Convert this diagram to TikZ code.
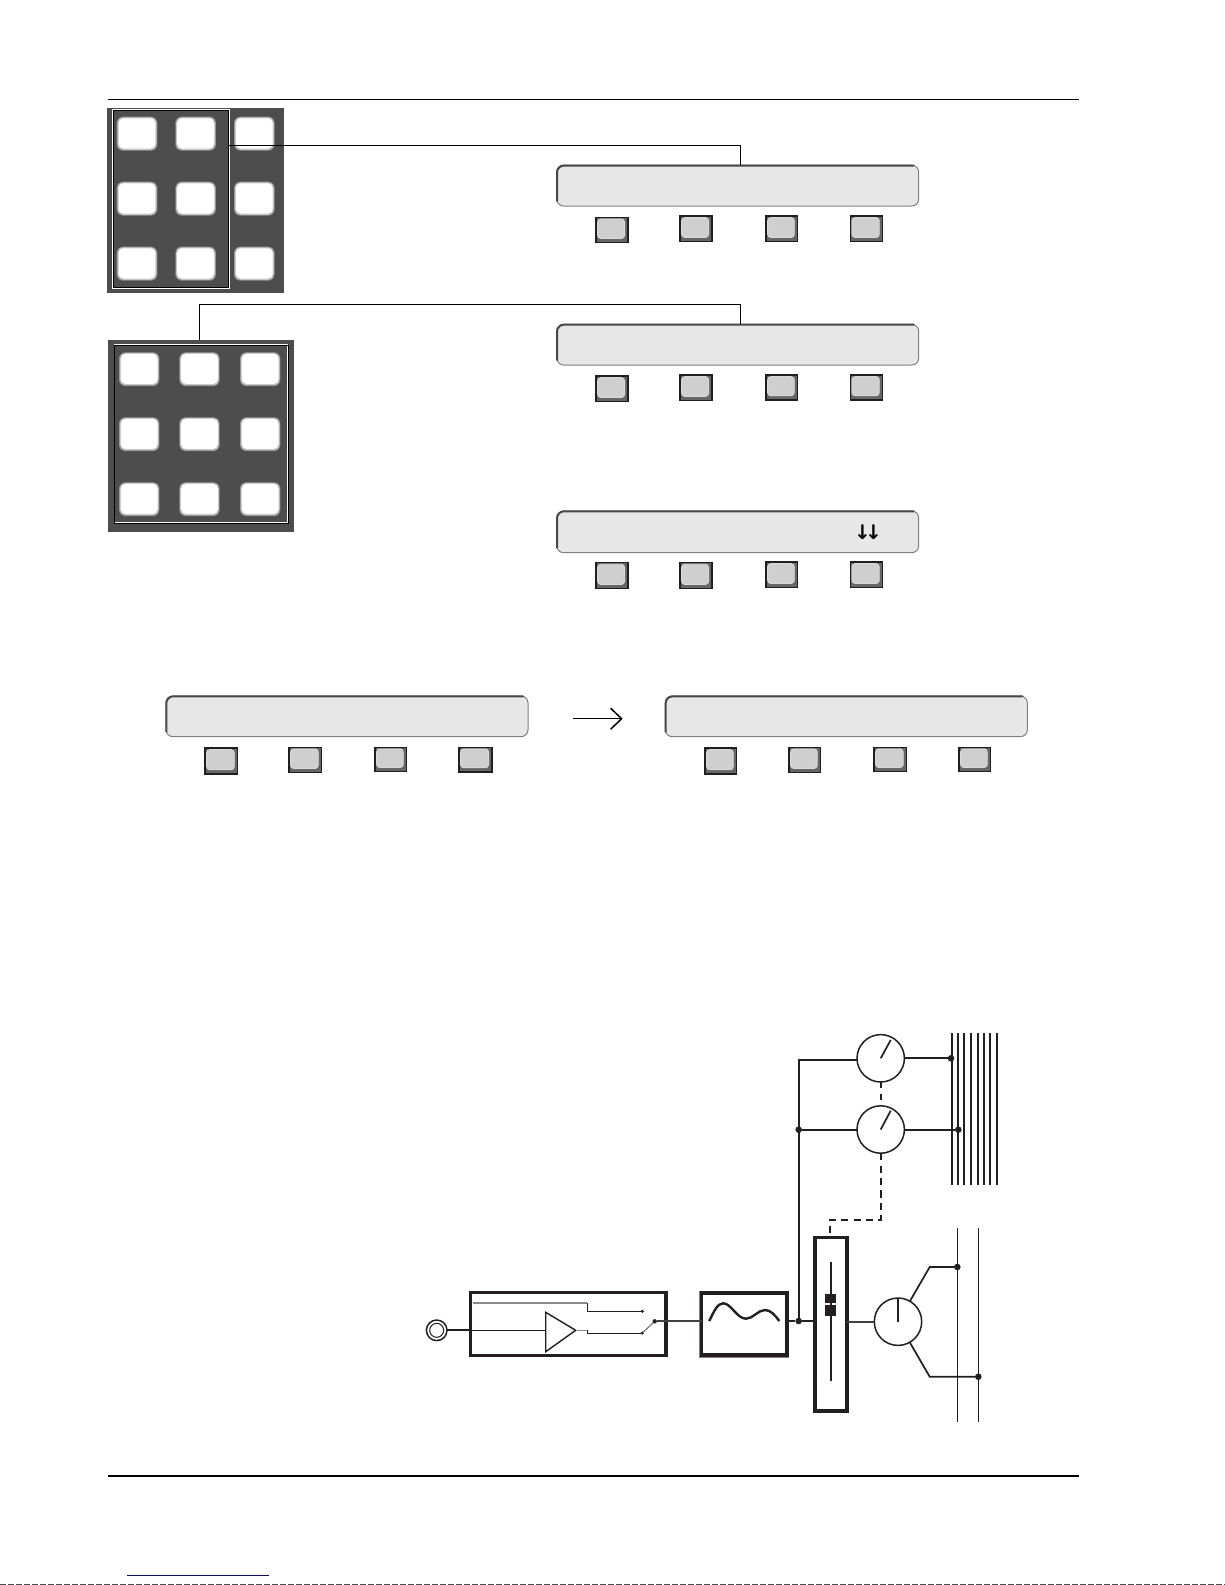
\documentclass[tikz,border=0pt]{standalone}
\usepackage{fontspec}
\usetikzlibrary{arrows.meta}
\newfontfamily\arrowfont{DejaVu Sans}
\definecolor{ink}{HTML}{231F20}
\definecolor{panelgrey}{HTML}{4D4D4D}
\definecolor{lcdfill}{HTML}{E7E7E7}
\definecolor{keyface}{HTML}{CFCFCF}
\newcommand{\lcdbox}[5]{%
  \node[lcd,minimum width={(#4-#2)*0.5pt},minimum height={(#5-#3)*0.5pt}] (#1) at ({(#2+#4)/2},{(#3+#5)/2}) {};
  \draw[lcdedge] ({#2+0.3},{#5-5}) -- ({#2+0.3},{#3+0.3}) -- ({#4-5},{#3+0.3});
}
\newcommand{\softkey}[5]{%
  \node[kframe,minimum width={(#4-#2)*0.5pt},minimum height={(#5-#3)*0.5pt}] (#1) at ({(#2+#4)/2},{(#3+#5)/2}) {};
  \fill[kface,draw=white!85!black,line width=0.4pt] ({#2+1.6},{#3+1.6}) rectangle ({#4-3.4},{#5-4.2});
}
\newcommand{\padkey}[5]{%
  \node[padouter,minimum width={(#4-#2)*0.5pt},minimum height={(#5-#3)*0.5pt}] (#1) at ({(#2+#4)/2},{(#3+#5)/2}) {};
  \fill[white!78!black,rounded corners=2.8pt] ({#2+0.8},{#3+0.6}) rectangle ({#4-0.8},{#5-0.9});
  \fill[white,rounded corners=2.4pt] ({#2+1.9},{#3+1.6}) rectangle ({#4-1.9},{#5-2.2});
}
\tikzset{
  lcd/.style={draw=black!50,fill=lcdfill,line width=0.5pt,rounded corners=3.5pt,inner sep=0pt,outer sep=0pt},
  lcdedge/.style={draw=black!72,line width=1pt,rounded corners=3.5pt,line cap=round},
  kframe/.style={draw=black!88,fill=black!60,line width=0.6pt,inner sep=0pt,outer sep=0pt},
  kface/.style={fill=keyface,rounded corners=1.6pt},
  padouter/.style={fill=black!42,rounded corners=3.2pt,inner sep=0pt,outer sep=0pt},
  panel/.style={fill=panelgrey,inner sep=0pt,outer sep=0pt},
  frameblack/.style={draw=black,line width=0.6pt,inner sep=0pt,outer sep=0pt},
  framewhite/.style={draw=white,line width=0.6pt},
  rulewire/.style={draw=black,line width=0.65pt},
  heavybox/.style={draw=ink,line width=1.6pt,fill=white,inner sep=0pt,outer sep=0pt},
  wire/.style={draw=ink,line width=0.85pt},
  thinwire/.style={draw=ink,line width=0.5pt},
  greywire/.style={draw=black!45,line width=0.6pt},
  ctrl/.style={draw=ink,line width=0.85pt,dash pattern=on 3.6pt off 2.6pt},
  meter/.style={circle,draw=ink,line width=0.75pt,minimum size=23.7pt,inner sep=0pt,outer sep=0pt,fill=white},
  bigdot/.style={circle,fill=ink,minimum size=3.3pt,inner sep=0pt,outer sep=0pt},
  smalldot/.style={circle,fill=ink,minimum size=1.7pt,inner sep=0pt,outer sep=0pt},
  needle/.style={draw=ink,line width=0.85pt},
}
\begin{document}
\begin{tikzpicture}[x=0.5pt,y=-0.5pt]
\useasboundingbox (0,0) rectangle (1225,1585);
\fill[white] (0,0) rectangle (1225,1585);
% page rules
\coordinate (ra) at (108,99.3); \coordinate (rb) at (1079,99.3);
\coordinate (rc) at (108,1476); \coordinate (rd) at (1079,1476);
\draw[rulewire] (ra) -- (rb);
\draw[rulewire,line width=0.55pt] (rc) -- (rd);
\coordinate (la) at (127,1575.3); \coordinate (lb) at (269,1575.3);
\draw[draw={rgb,255:red,0;green,0;blue,204},line width=0.5pt] (la) -- (lb);
\coordinate (ea) at (0,1584.7); \coordinate (eb) at (1225,1584.7);
\draw[black!70,line width=0.4pt,dash pattern=on 3pt off 1pt] (ea) -- (eb);
% panel 1
\node[panel,minimum width=88.5pt,minimum height=92.5pt] (p1) at (195.5,200.5) {};
\foreach \n/\xa/\ya in {a/116.7/116.7,b/175.3/116.7,c/234/116.7,d/116.7/181.7,e/175.3/181.7,f/234/181.7,g/116.7/246.7,h/175.3/246.7,i/234/246.7}{
  \padkey{pa\n}{\xa}{\ya}{\xa+40.6}{\ya+34}
}
\draw[framewhite] (112.4,109.6) rectangle (229.2,288);
\node[frameblack,minimum width=57.2pt,minimum height=88.3pt] (f1) at (171,199) {};
% panel 2
\node[panel,minimum width=93pt,minimum height=95.8pt] (p2) at (201.3,435.8) {};
\foreach \n/\xa/\ya in {a/119/352.3,b/179.3/352.3,c/240/352.3,d/119/417.3,e/179.3/417.3,f/240/417.3,g/119/482.3,h/179.3/482.3,i/240/482.3}{
  \padkey{pb\n}{\xa}{\ya}{\xa+40.4}{\ya+33.8}
}
\draw[framewhite] (114.8,344.6) rectangle (287.8,522.6);
\node[frameblack,minimum width=87pt,minimum height=89.3pt] (f2) at (201.6,434.4) {};
% displays
\lcdbox{d1}{556.7}{165.2}{918.7}{206}
\lcdbox{d2}{556.7}{324.3}{918.7}{365}
\lcdbox{d3}{556.7}{511}{918.7}{552.7}
\lcdbox{d4}{166}{696}{528}{736.7}
\lcdbox{d5}{665.3}{696}{1027.3}{736.7}
\node[inner sep=0pt] (dbl) at (868,532) {\arrowfont\fontsize{10pt}{10pt}\selectfont\bfseries ↓\kern-2.9pt↓};
% leader lines
\coordinate (c1) at (740.3,145.3);
\coordinate (c2) at (740.3,304.3);
\coordinate (c3) at (199.3,304.3);
\draw[rulewire] (f1.east |- c1) -- (c1) -- (c1 |- d1.north);
\draw[rulewire] (c3 |- p2.north) -- (c3) -- (c2) -- (c2 |- d2.north);
% soft keys
\softkey{a1}{596}{217.3}{628}{242.7}
\softkey{a2}{680}{216}{712}{241.7}
\softkey{a3}{766}{216}{797.7}{241.7}
\softkey{a4}{850.3}{216}{882.7}{241.7}
\softkey{b1}{596}{376}{628}{401.7}
\softkey{b2}{680}{375}{712}{400.7}
\softkey{b3}{766}{375}{797.7}{400}
\softkey{b4}{850.3}{375}{882.7}{400}
\softkey{c1k}{596}{562.7}{628}{588.7}
\softkey{c2k}{680}{562.7}{712}{588.7}
\softkey{c3k}{766}{562}{797.7}{587.7}
\softkey{c4k}{850.3}{562}{882.7}{587.7}
\softkey{e1}{205}{748}{237.7}{774}
\softkey{e2}{289}{747.3}{321.7}{772.7}
\softkey{e3}{375}{747.3}{406.7}{771.7}
\softkey{e4}{459}{747.3}{492}{772}
\softkey{g1}{705}{748}{736.7}{774}
\softkey{g2}{789}{747.3}{820.7}{772.7}
\softkey{g3}{874}{747.3}{906.7}{771.7}
\softkey{g4}{959}{747.3}{990.7}{771.7}
% transition arrow
\coordinate (ta) at (572.7,718.7); \coordinate (tb) at (622.7,718.7);
\draw[-{Straight Barb[length=5.5pt,width=10.5pt]},black,line width=0.75pt] (ta) -- (tb);
% circuit: front end
\node[circle,draw=ink,line width=0.75pt,minimum size=10.3pt,inner sep=0pt,outer sep=0pt] (jack) at (436.7,1330.3) {};
\node[circle,draw=ink,line width=0.5pt,minimum size=7pt,inner sep=0pt] (jackin) at (436.7,1330.3) {};
\node[heavybox,minimum width=97.7pt,minimum height=31.2pt] (amp) at (568.3,1323.9) {};
\draw[black!50,line width=0.5pt] (699.6,1291.6) rectangle (788.8,1357);
\node[heavybox,minimum width=42.7pt,minimum height=31pt] (flt) at (744.2,1324) {};
\draw[wire,line width=1pt] (jack.east) -- (amp.west |- jack.east);
\coordinate (tr1) at (545.7,1312.3); \coordinate (tr2) at (545.7,1351.7); \coordinate (trt) at (575.7,1330.3);
\draw[thinwire,line width=0.6pt] (amp.west |- jack.east) -- (545.7,1330.3);
\draw[wire,line width=0.7pt,fill=white,line join=miter] (tr1) -- (trt) -- (tr2) -- cycle;
\coordinate (up0) at (472.7,1303); \coordinate (up1) at (587.3,1303); \coordinate (up2) at (587.3,1311.3);
\coordinate (lo1) at (587.3,1330.3); \coordinate (lo2) at (587.3,1333);
\node[smalldot] (cu) at (642.3,1311.3) {};
\node[smalldot] (cl) at (642.3,1333) {};
\node[smalldot,minimum size=2.2pt] (cc) at (654.7,1321.3) {};
\draw[greywire] (up0) -- (up1);
\draw[thinwire] (up1) -- (up2) -- (cu);
\draw[greywire] (trt) -- (lo1);
\draw[thinwire] (lo1) -- (lo2) -- (cl);
\draw[thinwire,draw=black!60] (cl) -- (cc);
\draw[wire,draw=black!75] (cc) -- (cc -| flt.west);
\draw[ink,line width=1.2pt,line cap=butt] (709.3,1321) .. controls (714,1311) and (717.5,1303.3) .. (723.3,1303.3) .. controls (731,1303.3) and (737,1318.7) .. (746,1318.7) .. controls (753,1318.7) and (758,1310) .. (765,1310) .. controls (770.5,1310) and (775,1315) .. (779.3,1321);
% circuit: junction and bus
\node[bigdot] (j1) at (798.7,1321) {};
\node[heavybox,minimum width=16pt,minimum height=86.6pt] (slide) at (831,1324.3) {};
\draw[thinwire,line width=0.6pt] (flt.east |- j1) -- (j1) -- (j1 -| slide.west);
\coordinate (slt) at (831,1262); \coordinate (slb) at (831,1380.7);
\draw[needle] (slt) -- (slb);
\node[fill=ink,minimum width=5.5pt,minimum height=4.7pt,inner sep=0pt,outer sep=0pt] (sb1) at (830.5,1298.7) {};
\node[fill=ink,minimum width=5.5pt,minimum height=5.5pt,inner sep=0pt,outer sep=0pt] (sb2) at (830.5,1310.5) {};
\node[meter] (m3) at (898,1321.7) {};
\coordinate (m3n) at (898,1298.3);
\draw[needle] (m3.center) -- (m3n);
\draw[wire,draw=black!75,line width=0.9pt] (slide.east |- m3) -- (m3.west);
\coordinate (u1) at (910,1301); \coordinate (u2) at (929.7,1267);
\coordinate (v1) at (910,1342.7); \coordinate (v2) at (929.7,1376.7);
\node[bigdot] (o1) at (957.3,1267) {};
\node[bigdot] (o2) at (978.3,1376.7) {};
\draw[wire] (u1) -- (u2) -- (o1);
\draw[wire] (v1) -- (v2) -- (o2);
\foreach \xb in {957.3,978.3}{
  \coordinate (ot) at (\xb,1228.3); \coordinate (ob) at (\xb,1421.7);
  \draw[thinwire,line width=0.6pt] (ot) -- (ob);
}
% circuit: meters and busbars
\foreach \xb in {951.7,957.7,964.3,971,977.7,984,990.3,997}{
  \coordinate (bt) at (\xb,1033.3); \coordinate (bb) at (\xb,1185);
  \draw[wire] (bt) -- (bb);
}
\node[meter] (m1) at (880.7,1058.3) {};
\node[meter] (m2) at (880.7,1129.5) {};
\coordinate (m1n) at (890.7,1040); \coordinate (m2n) at (890.7,1110.7);
\draw[needle] (m1.center) -- (m1n);
\draw[needle] (m2.center) -- (m2n);
\node[bigdot] (j2) at (798.7,1129.7) {};
\node[bigdot] (q1) at (951,1058.3) {};
\node[bigdot] (q2) at (958.3,1129.7) {};
\coordinate (bus) at (798.7,1060);
\draw[wire] (j1) -- (bus) -- (m1.west |- bus);
\draw[wire] (j2) -- (m2.west |- j2);
\draw[wire] (m1.east |- q1) -- (q1);
\draw[wire] (m2.east |- q2) -- (q2);
\draw[ctrl,dash pattern=on 3pt off 3pt] (m1.south) -- (m2.north);
\coordinate (dk1) at (880.7,1220); \coordinate (dk2) at (829.7,1220);
\draw[ctrl] (m2.south) -- (dk1) -- (dk2) -- (dk2 |- slide.north);
\end{tikzpicture}
\end{document}
